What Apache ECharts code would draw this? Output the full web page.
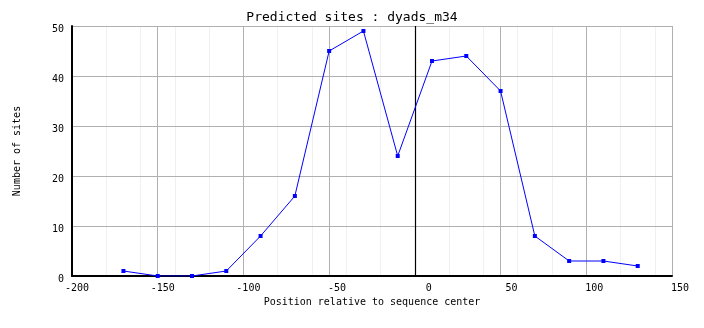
<!DOCTYPE html>
<html>
<head>
<meta charset="utf-8">
<script src="https://cdn.jsdelivr.net/npm/echarts@6/dist/echarts.min.js"></script>
<style>html,body{margin:0;padding:0;background:#fff}#c{width:704px;height:328px}</style>
</head>
<body>
<div id="c"></div>
<script>
const titleText = 'Predicted sites : dyads_m34';
const xName = 'Position relative to sequence center';
const yName = 'Number of sites';
const positions = [-170, -150, -130, -110, -90, -70, -50, -30, -10, 10, 30, 50, 70, 90, 110, 130];
const sites = [1, 0, 0, 1, 8, 16, 45, 49, 24, 43, 44, 37, 8, 3, 3, 2];
const xMin = -200, xMax = 150, xMajor = 50, xMinor = 20;
const yMin = 0, yMax = 50, yStep = 10;
const centerLine = 0;

const FONT = 'DejaVu Sans Mono';
const chart = echarts.init(document.getElementById('c'), null, {renderer: 'canvas'});
chart.setOption({
  animation: false,
  backgroundColor: '#fff',
  title: {
    text: titleText, left: 'center', top: 11, padding: 0,
    textStyle: {fontFamily: FONT, fontSize: 13, fontWeight: 'normal', color: '#000'}
  },
  grid: [
    {left: 72, right: 32, top: 26, bottom: 52},
    {left: 89, right: 15, top: 29, bottom: 49}
  ],
  xAxis: [
    {type: 'value', gridIndex: 0, position: 'top', min: xMin, max: xMax, interval: xMinor, z: 0,
     axisLine: {show: false}, axisTick: {show: false}, axisLabel: {show: false},
     splitLine: {show: true, lineStyle: {color: '#f0f0f0', width: 1}}},
    {type: 'value', gridIndex: 0, position: 'bottom', min: xMin, max: xMax, interval: xMajor, z: 1,
     name: xName, nameLocation: 'middle', nameGap: 21,
     nameTextStyle: {fontFamily: FONT, fontSize: 10, color: '#000'},
     axisLine: {show: true, onZero: false, lineStyle: {color: '#000', width: 2}},
     axisTick: {show: false}, axisLabel: {show: false},
     splitLine: {show: true, lineStyle: {color: '#b0b0b0', width: 1}}},
    {type: 'value', gridIndex: 1, position: 'bottom', min: xMin, max: xMax, interval: xMajor,
     axisLine: {show: false}, axisTick: {show: false}, splitLine: {show: false},
     axisLabel: {show: true, align: 'right', margin: 4, fontFamily: FONT, fontSize: 10, color: '#000'}}
  ],
  yAxis: [
    {type: 'value', gridIndex: 0, min: yMin, max: yMax, interval: yStep, z: 1,
     name: yName, nameLocation: 'middle', nameGap: 50, nameRotate: 90,
     nameTextStyle: {fontFamily: FONT, fontSize: 10, color: '#000'},
     axisLine: {show: true, onZero: false, lineStyle: {color: '#000', width: 2}},
     axisTick: {show: false}, axisLabel: {show: false},
     splitLine: {show: true, lineStyle: {color: '#b0b0b0', width: 1}}},
    {type: 'value', gridIndex: 1, min: yMin, max: yMax, interval: yStep,
     axisLine: {show: false}, axisTick: {show: false}, splitLine: {show: false},
     axisLabel: {show: true, margin: 25, fontFamily: FONT, fontSize: 10, color: '#000'}}
  ],
  series: [{
    type: 'line', xAxisIndex: 1, yAxisIndex: 0,
    data: positions.map((x, i) => [x, sites[i]]),
    symbol: 'rect', symbolSize: 4, showSymbol: true,
    lineStyle: {color: '#0000ff', width: 1},
    itemStyle: {color: '#0000ff'},
    z: 5,
    markLine: {
      silent: true, symbol: 'none', label: {show: false},
      lineStyle: {color: '#000', type: 'solid', width: 1.2},
      data: [{xAxis: centerLine}]
    }
  }]
});
</script>
</body>
</html>
